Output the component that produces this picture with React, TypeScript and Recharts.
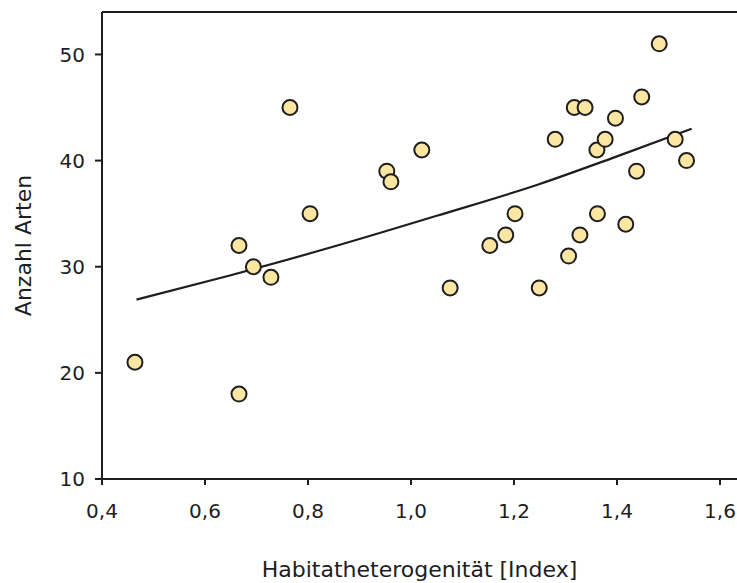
import {
  ComposedChart,
  Scatter,
  XAxis,
  YAxis,
  ReferenceLine
} from 'recharts'

// Habitat heterogeneity index (x) and species count (y) per site
const heterogeneity = [
  0.464, 0.666, 0.666, 0.694, 0.728, 0.765, 0.804, 0.953, 0.961, 1.021,
  1.076, 1.153, 1.184, 1.202, 1.249, 1.28, 1.306, 1.317, 1.328, 1.338,
  1.361, 1.362, 1.377, 1.397, 1.417, 1.438, 1.448, 1.482, 1.513, 1.535
]
const speciesCount = [
  21, 18, 32, 30, 29, 45, 35, 39, 38, 41,
  28, 32, 33, 35, 28, 42, 31, 45, 33, 45,
  41, 35, 42, 44, 34, 39, 46, 51, 42, 40
]

// fitted curve
const trendX = [0.467, 0.65, 0.85, 1.05, 1.25, 1.4, 1.545]
const trendY = [26.9, 29.2, 31.9, 34.8, 37.8, 40.4, 43.0]

const xTicks = [0.4, 0.6, 0.8, 1.0, 1.2, 1.4, 1.6]
const yTicks = [10, 20, 30, 40, 50]

const points = heterogeneity.map((x, i) => ({ x, y: speciesCount[i] }))
const trend = trendX.map((x, i) => ({ x, y: trendY[i] }))

const FONT = "'DejaVu Sans', sans-serif"
const INK = '#1e1e1e'

const Dot = (props: any) => (
  <circle cx={props.cx} cy={props.cy} r={7.5} fill='#fde6a2' stroke={INK} strokeWidth={2} />
)

export default function App () {
  return (
    <div style={{ position: 'absolute', left: 0, top: 0, background: '#fff' }}>
      <ComposedChart
        width={737}
        height={583}
        margin={{ top: 12, right: 0, bottom: 0, left: 0 }}
        style={{ fontFamily: FONT }}
      >
        <XAxis
          type='number'
          dataKey='x'
          domain={[0.4, 1.633]}
          ticks={xTicks}
          allowDataOverflow
          tickFormatter={v => v.toFixed(1).replace('.', ',')}
          height={104}
          stroke={INK}
          strokeWidth={2}
          tickSize={6}
          tickMargin={19}
          tick={{ fill: INK, fontSize: 20, fontFamily: FONT }}
          label={{
            value: 'Habitatheterogenität [Index]',
            position: 'insideBottom',
            offset: 6,
            fill: INK,
            fontSize: 22,
            fontFamily: FONT
          }}
        />
        <YAxis
          type='number'
          dataKey='y'
          domain={[10, 54]}
          ticks={yTicks}
          allowDataOverflow
          width={102}
          stroke={INK}
          strokeWidth={2}
          tickSize={7}
          tickMargin={10}
          tick={{ fill: INK, fontSize: 20, fontFamily: FONT }}
          label={{
            value: 'Anzahl Arten',
            angle: -90,
            position: 'insideLeft',
            offset: 23,
            fill: INK,
            fontSize: 22,
            fontFamily: FONT,
            style: { textAnchor: 'middle' }
          }}
        />
        <ReferenceLine y={54} stroke={INK} strokeWidth={2} />
        <Scatter
          data={trend}
          line={{ stroke: INK, strokeWidth: 2.2 }}
          lineJointType='monotoneX'
          shape={() => <g />}
          isAnimationActive={false}
        />
        <Scatter
          data={points}
          shape={Dot}
          isAnimationActive={false}
        />
      </ComposedChart>
    </div>
  )
}
